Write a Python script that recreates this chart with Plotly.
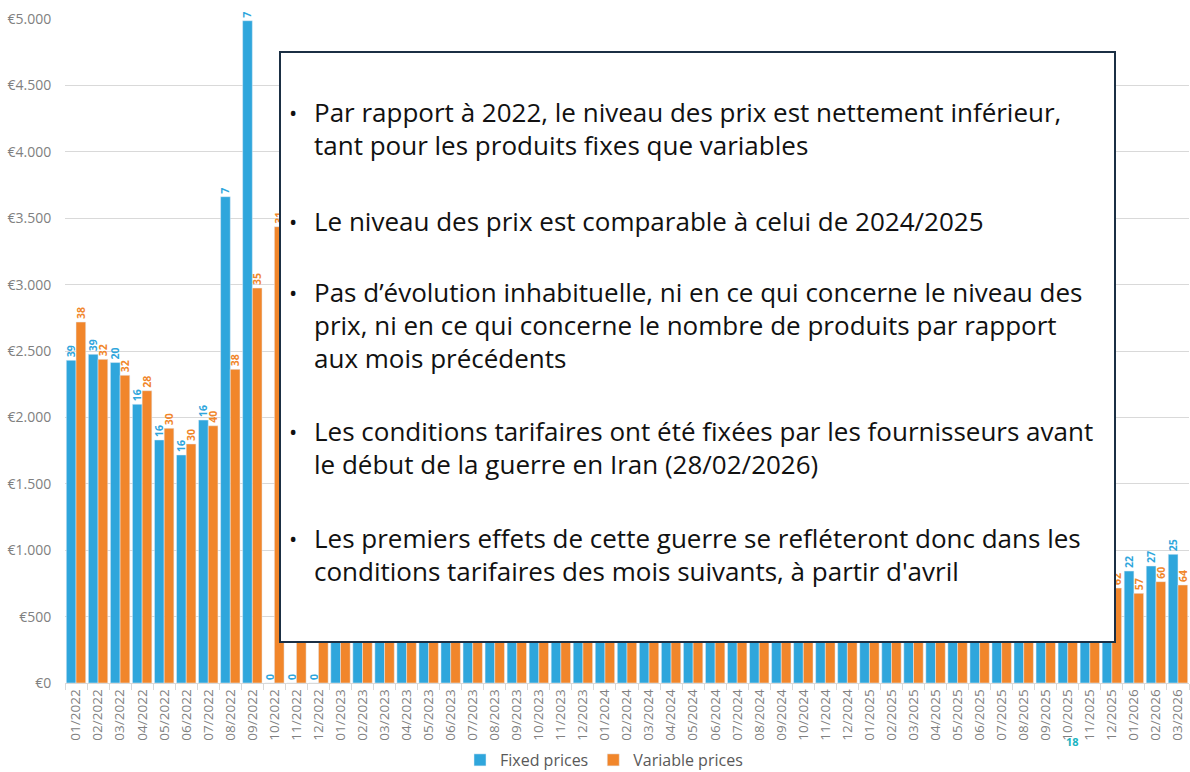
import plotly.graph_objects as go

months = [
    "01/2022", "02/2022", "03/2022", "04/2022", "05/2022", "06/2022",
    "07/2022", "08/2022", "09/2022", "10/2022", "11/2022", "12/2022",
    "01/2023", "02/2023", "03/2023", "04/2023", "05/2023", "06/2023",
    "07/2023", "08/2023", "09/2023", "10/2023", "11/2023", "12/2023",
    "01/2024", "02/2024", "03/2024", "04/2024", "05/2024", "06/2024",
    "07/2024", "08/2024", "09/2024", "10/2024", "11/2024", "12/2024",
    "01/2025", "02/2025", "03/2025", "04/2025", "05/2025", "06/2025",
    "07/2025", "08/2025", "09/2025", "10/2025", "11/2025", "12/2025",
    "01/2026", "02/2026", "03/2026",
]

# average price (EUR) - values under the text box are estimates
fixed_price = [
    2430, 2475, 2413, 2099, 1830, 1717, 1980, 3662, 4987, 0, 0, 0,
    1850, 1700, 1600, 1500, 1400, 1350, 1300, 1250, 1200, 1150, 1100, 1050,
    1000, 980, 950, 930, 920, 900, 900, 890, 880, 870, 860, 850,
    860, 850, 840, 830, 830, 820, 820, 830, 840, 850, 860, 870,
    843, 881, 969,
]
variable_price = [
    2718, 2437, 2317, 2201, 1918, 1800, 1937, 2362, 2974, 3436, 3000, 2500,
    2200, 1900, 1650, 1450, 1300, 1200, 1100, 1050, 1000, 980, 950, 900,
    850, 820, 800, 780, 770, 760, 750, 750, 740, 740, 730, 730,
    720, 720, 710, 700, 700, 700, 700, 700, 705, 710, 712, 715,
    675, 763, 738,
]

# number of products shown above the bars
fixed_count = [
    39, 39, 20, 16, 16, 16, 16, 7, 7, 0, 0, 0,
    2, 4, 6, 8, 10, 12, 13, 14, 15, 16, 17, 18,
    18, 19, 19, 20, 20, 21, 21, 22, 22, 22, 23, 23,
    23, 23, 24, 24, 24, 25, 25, 25, 25, 24, 23, 22,
    22, 27, 25,
]
variable_count = [
    38, 32, 32, 28, 30, 30, 40, 38, 35, 31, 30, 32,
    35, 38, 40, 42, 45, 46, 48, 50, 50, 52, 53, 54,
    55, 55, 56, 56, 57, 57, 58, 58, 58, 59, 59, 60,
    60, 60, 61, 61, 61, 62, 62, 62, 62, 62, 62, 62,
    57, 60, 64,
]

y_ticks = [0, 500, 1000, 1500, 2000, 2500, 3000, 3500, 4000, 4500, 5000]
y_tick_labels = ["€0", "€500", "€1.000", "€1.500", "€2.000", "€2.500",
                 "€3.000", "€3.500", "€4.000", "€4.500", "€5.000"]

# text box content, one entry per bullet, one string per line
bullets = [
    ["Par rapport à 2022, le niveau des prix est nettement inférieur,",
     "tant pour les produits fixes que variables"],
    ["Le niveau des prix est comparable à celui de 2024/2025"],
    ["Pas d’évolution inhabituelle, ni en ce qui concerne le niveau des",
     "prix, ni en ce qui concerne le nombre de produits par rapport",
     "aux mois précédents"],
    ["Les conditions tarifaires ont été fixées par les fournisseurs avant",
     "le début de la guerre en Iran (28/02/2026)"],
    ["Les premiers effets de cette guerre se refléteront donc dans les",
     "conditions tarifaires des mois suivants, à partir d'avril"],
]

BLUE = "#2fa6dc"
ORANGE = "#f1862b"

# pixel helpers (plot area: x 65..1189, y 19..683)
L, R, T, B = 65, 1, 19, 89
W, H = 1190, 772
PW, PH = W - L - R, H - T - B


def px_x(x):
    return (x - L) / PW


def px_y(y):
    return (H - B - y) / PH


fig = go.Figure()
fig.add_trace(go.Bar(
    x=months, y=fixed_price, name="Fixed prices",
    marker_color=BLUE, text=fixed_count, textposition="outside",
    textangle=-90, constraintext="none", cliponaxis=False,
    outsidetextfont=dict(color=BLUE, size=10.5, family="Open Sans", weight="bold"),
))
fig.add_trace(go.Bar(
    x=months, y=variable_price, name="Variable prices",
    marker_color=ORANGE, text=variable_count, textposition="outside",
    textangle=-90, constraintext="none", cliponaxis=False,
    outsidetextfont=dict(color=ORANGE, size=10.5, family="Open Sans", weight="bold"),
))

# white text box covering the middle of the chart
fig.add_shape(
    type="rect", xref="paper", yref="paper", layer="above",
    x0=px_x(280), x1=px_x(1115), y0=px_y(642), y1=px_y(52),
    fillcolor="white", line=dict(color="#1b2f44", width=2),
)

FS = 26
LINE_STEP = 33
first_baselines = [121, 230, 301, 440, 547]
for lines, base in zip(bullets, first_baselines):
    fig.add_annotation(
        text="•", xref="paper", yref="paper", x=px_x(293),
        y=px_y(base - 0.36 * FS), xanchor="center", yanchor="middle",
        showarrow=False, font=dict(family="Open Sans", size=22, color="#111111"),
    )
    for i, line in enumerate(lines):
        fig.add_annotation(
            text=line, xref="paper", yref="paper", x=px_x(312),
            y=px_y(base + i * LINE_STEP - 0.36 * FS),
            xanchor="left", yanchor="middle", align="left", showarrow=False,
            font=dict(family="Open Sans", size=FS, color="#111111"),
        )

# slide page number
fig.add_annotation(
    text="<b>18</b>", xref="paper", yref="paper", x=px_x(1081), y=px_y(751),
    showarrow=False, font=dict(family="Open Sans", size=11, color="#1bb4c2"),
)

fig.update_layout(
    width=W, height=H,
    margin=dict(l=L, r=R, t=T, b=B, autoexpand=False),
    paper_bgcolor="white", plot_bgcolor="white",
    barmode="group", bargap=0.12, bargroupgap=0,
    font=dict(family="Open Sans", color="#7f7f7f"),
    legend=dict(
        orientation="h", xref="container", yref="container",
        x=604 / W, y=1 - 760 / H, xanchor="center", yanchor="middle",
        font=dict(size=16, color="#595959"),
    ),
)
fig.update_xaxes(
    type="category", tickangle=-90, tickfont=dict(size=13.5, color="#808080"),
    showline=True, linecolor="#d9d9d9", linewidth=1, automargin=False,
    ticks="outside", tickson="boundaries", ticklen=6, tickcolor="#d9d9d9",
    showgrid=False,
)
fig.update_yaxes(
    range=[0, 5000], tickvals=y_ticks, ticktext=y_tick_labels,
    tickfont=dict(size=14, color="#808080"), automargin=False,
    showgrid=True, gridcolor="#d9d9d9", gridwidth=1, zeroline=False,
    ticks="outside", ticklen=10, tickcolor="rgba(0,0,0,0)",
)

# the page is photographed at the window origin, so drop the body margin
fig.write_html(
    "out.html",
    config={"displayModeBar": False},
    post_script="document.body.style.margin='0';",
)
